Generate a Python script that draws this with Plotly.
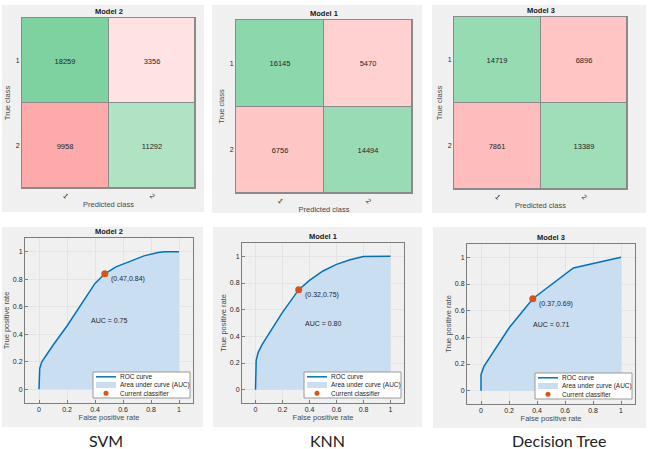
import plotly.graph_objects as go

# ---------------- data ----------------
method_names = ["SVM", "KNN", "Decision Tree"]
model_titles = ["Model 2", "Model 1", "Model 3"]
class_labels = ["1", "2"]

# confusion matrices: rows = true class, cols = predicted class
cm_svm = [[18259, 3356], [9958, 11292]]
cm_knn = [[16145, 5470], [6756, 14494]]
cm_tree = [[14719, 6896], [7861, 13389]]
conf_mats = [cm_svm, cm_knn, cm_tree]

# ROC curves
fpr_svm = [0, 0.0, 0.005, 0.02, 0.1, 0.2, 0.3, 0.4, 0.47, 0.55, 0.65, 0.75, 0.85, 0.9, 1.0]
tpr_svm = [0, 0.1, 0.15, 0.2, 0.32, 0.46, 0.62, 0.77, 0.84, 0.89, 0.93, 0.97, 0.995, 1.0, 1.0]
fpr_knn = [0, 0.0, 0.005, 0.02, 0.05, 0.1, 0.2, 0.32, 0.4, 0.5, 0.6, 0.7, 0.8, 1.0]
tpr_knn = [0, 0.18, 0.22, 0.28, 0.34, 0.42, 0.58, 0.75, 0.82, 0.89, 0.94, 0.975, 0.998, 1.0]
fpr_tree = [0, 0.0, 0.02, 0.2, 0.37, 0.66, 1.0]
tpr_tree = [0, 0.12, 0.18, 0.47, 0.69, 0.92, 1.0]
roc_fpr = [fpr_svm, fpr_knn, fpr_tree]
roc_tpr = [tpr_svm, tpr_knn, tpr_tree]
op_points = [(0.47, 0.84), (0.32, 0.75), (0.37, 0.69)]
auc_values = [0.75, 0.80, 0.71]
roc_ticks = [0, 0.2, 0.4, 0.6, 0.8, 1]
roc_ticktext = ["0", "0.2", "0.4", "0.6", "0.8", "1"]
legend_names = ["ROC curve", "Area under curve (AUC)", "Current classifier"]

# ---------------- layout helpers ----------------
W, H = 648, 449
def fx(p):
    return p / W
def fy(p):
    return 1 - p / H

FONT = "Liberation Sans, Arial, sans-serif"
TXT = "#262626"
AXC = "#7d7d7d"

# plot areas in pixels (left, right, top, bottom)
cm_boxes = [(22, 195, 18, 188), (236, 412, 20, 193), (454, 627, 17, 189)]
roc_boxes = [(25, 193, 238, 403), (242, 404, 243, 403), (467, 635, 244, 404)]
panels = [(2, 204, 5, 212), (212, 422, 5, 213), (432, 646, 5, 213),
          (2, 203, 227, 427), (213, 422, 227, 427), (433, 646, 227, 428)]
label_pos = [(106, 440), (327, 440), (559, 440)]

fig = go.Figure()
shapes = []
annotations = []

for (l, r, t, b) in panels:
    shapes.append(dict(type="rect", xref="paper", yref="paper",
                       x0=fx(l), x1=fx(r), y0=fy(b), y1=fy(t),
                       fillcolor="#f0f0f0", line=dict(width=0), layer="below"))

gmax = max(max(max(row) for row in m) for m in conf_mats)
cscale = [[0, "rgb(255,100,100)"], [0.5, "rgb(255,255,255)"], [1, "rgb(125,210,160)"]]

layout_axes = {}
for i, m in enumerate(conf_mats):
    n = i + 1
    xa = "x" if n == 1 else f"x{n}"
    ya = "y" if n == 1 else f"y{n}"
    signed = [[v if r == c else -v for c, v in enumerate(row)] for r, row in enumerate(m)]
    fig.add_trace(go.Heatmap(
        x=[1, 2], y=[1, 2], z=signed, text=m, texttemplate="%{text}",
        textfont=dict(size=7.5, color=TXT, family=FONT),
        colorscale=cscale, zmin=-gmax, zmax=gmax, showscale=False,
        xgap=1, ygap=1, hoverinfo="skip", xaxis=xa, yaxis=ya))
    l, r, t, b = cm_boxes[i]
    layout_axes["xaxis" if n == 1 else f"xaxis{n}"] = dict(
        domain=[fx(l), fx(r)], anchor=ya, range=[0.5, 2.5],
        tickmode="array", tickvals=[1, 2], ticktext=class_labels, tickangle=45,
        ticks="", showgrid=False, zeroline=False, showline=True, mirror=True,
        linecolor="#8a8a8a", linewidth=1,
        tickfont=dict(size=7, color=TXT, family=FONT),
        title=dict(text="Predicted class", font=dict(size=7.5, color="#4a4a4a", family=FONT), standoff=2))
    layout_axes["yaxis" if n == 1 else f"yaxis{n}"] = dict(
        domain=[fy(b), fy(t)], anchor=xa, range=[2.5, 0.5],
        tickmode="array", tickvals=[1, 2], ticktext=class_labels,
        ticks="", showgrid=False, zeroline=False, showline=True, mirror=True,
        linecolor="#8a8a8a", linewidth=1,
        tickfont=dict(size=7, color=TXT, family=FONT),
        title=dict(text="True class", font=dict(size=7.5, color="#4a4a4a", family=FONT), standoff=4))
    shapes.append(dict(type="rect", xref=f"{xa} domain", yref=f"{ya} domain",
                       x0=0, x1=1, y0=0, y1=1, fillcolor="#8a8a8a",
                       line=dict(width=0), layer="below"))
    annotations.append(dict(text="<b>" + model_titles[i] + "</b>", xref=f"{xa} domain",
                            yref=f"{ya} domain", x=0.5, y=1, yanchor="bottom",
                            showarrow=False, font=dict(size=7.5, color="#1a1a1a", family=FONT)))

for i in range(3):
    n = i + 4
    xa, ya = f"x{n}", f"y{n}"
    fig.add_trace(go.Scatter(x=roc_fpr[i], y=roc_tpr[i], mode="lines", fill="tozeroy",
                             fillcolor="#c9def1", line=dict(width=0), hoverinfo="skip",
                             showlegend=False, xaxis=xa, yaxis=ya))
    fig.add_trace(go.Scatter(x=roc_fpr[i], y=roc_tpr[i], mode="lines",
                             line=dict(color="#0072BD", width=1.5), hoverinfo="skip",
                             showlegend=False, xaxis=xa, yaxis=ya))
    ox, oy = op_points[i]
    fig.add_trace(go.Scatter(x=[ox], y=[oy], mode="markers",
                             marker=dict(color="#D95319", size=7), hoverinfo="skip",
                             showlegend=False, xaxis=xa, yaxis=ya))
    l, r, t, b = roc_boxes[i]
    common = dict(range=[-0.1, 1.1], tickmode="array", tickvals=roc_ticks, ticktext=roc_ticktext,
                  ticks="inside", ticklen=3, tickcolor=AXC, showgrid=True, gridcolor="#e4e4e4",
                  gridwidth=1, zeroline=False, showline=True, mirror=True, linecolor=AXC,
                  linewidth=1, tickfont=dict(size=7, color=TXT, family=FONT))
    layout_axes[f"xaxis{n}"] = dict(domain=[fx(l), fx(r)], anchor=ya,
                                    title=dict(text="False positive rate",
                                               font=dict(size=7.5, color="#4a4a4a", family=FONT), standoff=1),
                                    **common)
    layout_axes[f"yaxis{n}"] = dict(domain=[fy(b), fy(t)], anchor=xa,
                                    title=dict(text="True positive rate",
                                               font=dict(size=7.5, color="#4a4a4a", family=FONT), standoff=2),
                                    **common)
    annotations.append(dict(text="<b>" + model_titles[i] + "</b>", xref=f"{xa} domain",
                            yref=f"{ya} domain", x=0.5, y=1, yanchor="bottom",
                            showarrow=False, font=dict(size=7.5, color="#1a1a1a", family=FONT)))
    annotations.append(dict(text="(%.2f,%.2f)" % (ox, oy), xref=xa, yref=ya, x=ox, y=oy,
                            xanchor="left", yanchor="middle", xshift=4, yshift=-5,
                            showarrow=False, font=dict(size=7, color=TXT, family=FONT)))
    annotations.append(dict(text="AUC = %.2f" % auc_values[i], xref=xa, yref=ya, x=0.5, y=0.5,
                            xanchor="center", yanchor="middle",
                            showarrow=False, font=dict(size=7, color=TXT, family=FONT)))
    # legend box (drawn by hand to match the compact MATLAB legend)
    bw, bh = 97, 26
    br, bb = r - 3, b - 5
    bl, bt = br - bw, bb - bh
    shapes.append(dict(type="rect", xref="paper", yref="paper", x0=fx(bl), x1=fx(br),
                       y0=fy(bb), y1=fy(bt), fillcolor="white",
                       line=dict(color="#9a9a9a", width=1), layer="above"))
    rows = [bt + 4.8, bt + 13, bt + 21.2]
    shapes.append(dict(type="line", xref="paper", yref="paper", x0=fx(bl + 3), x1=fx(bl + 23),
                       y0=fy(rows[0]), y1=fy(rows[0]), line=dict(color="#0072BD", width=1.5),
                       layer="above"))
    shapes.append(dict(type="rect", xref="paper", yref="paper", x0=fx(bl + 3), x1=fx(bl + 23),
                       y0=fy(rows[1] + 3), y1=fy(rows[1] - 3), fillcolor="#c9def1",
                       line=dict(width=0), layer="above"))
    shapes.append(dict(type="circle", xref="paper", yref="paper", x0=fx(bl + 10.5), x1=fx(bl + 15.5),
                       y0=fy(rows[2] + 2.5), y1=fy(rows[2] - 2.5), fillcolor="#D95319",
                       line=dict(width=0), layer="above"))
    for name, ry in zip(legend_names, rows):
        annotations.append(dict(text=name, xref="paper", yref="paper", x=fx(bl + 25), y=fy(ry),
                                xanchor="left", yanchor="middle", showarrow=False,
                                font=dict(size=6.5, color=TXT, family=FONT)))

for name, (cx, cy) in zip(method_names, label_pos):
    annotations.append(dict(text=name, xref="paper", yref="paper", x=fx(cx), y=fy(cy),
                            xanchor="center", yanchor="middle", showarrow=False,
                            height=17, borderpad=0, valign="middle",
                            font=dict(size=16, color="#222222", family="Lato, sans-serif")))

fig.update_layout(width=W, height=H, autosize=False, margin=dict(l=0, r=0, t=0, b=0),
                  paper_bgcolor="white", plot_bgcolor="white", showlegend=False,
                  shapes=shapes, annotations=annotations, **layout_axes)

fig.write_html("out.html", include_plotlyjs=True, config={"displayModeBar": False})
